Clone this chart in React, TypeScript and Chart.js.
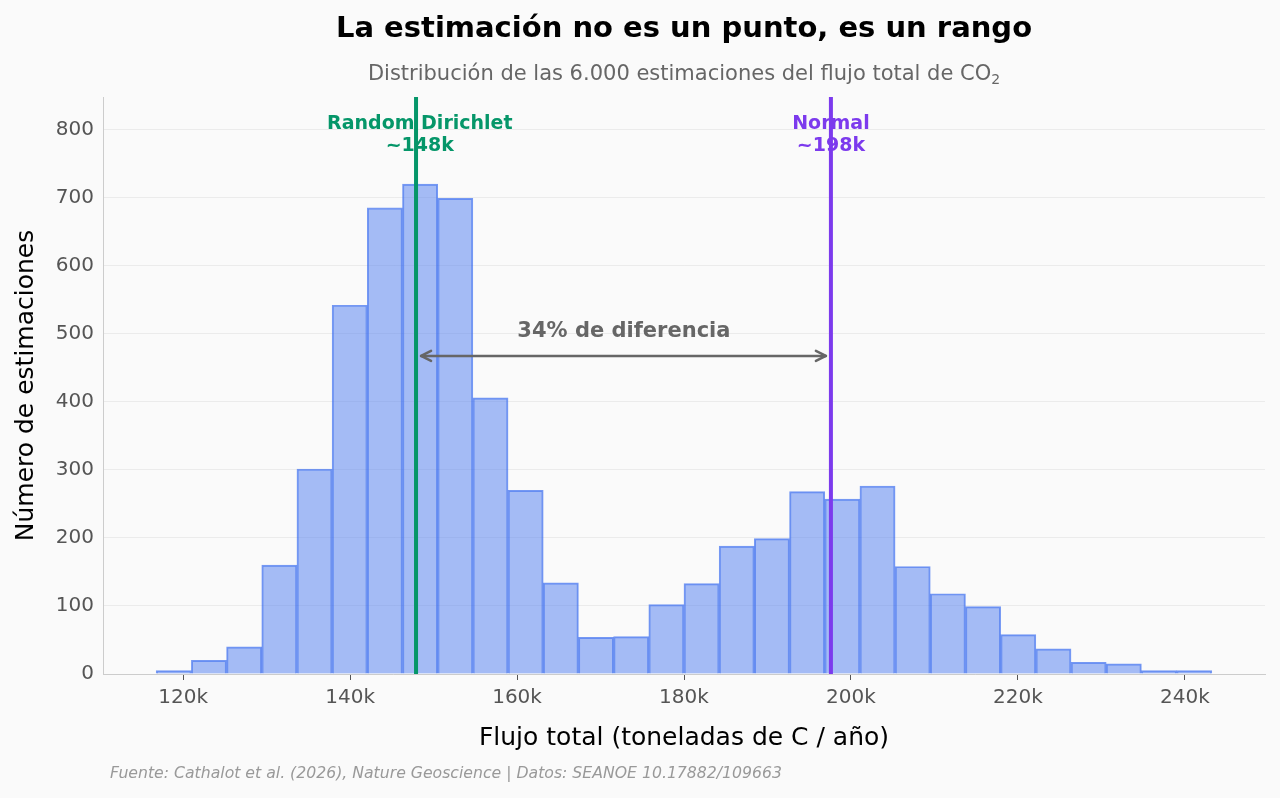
import React, { useEffect, useRef } from 'react';
import { Chart, registerables } from 'chart.js';

Chart.register(...registerables);

// Histogram bin edges (thousands of t C / year)
const binEdges = [
  116.77, 120.99, 125.2, 129.42, 133.63, 137.85, 142.06, 146.28, 150.49, 154.71,
  158.92, 163.14, 167.35, 171.57, 175.78, 180.0, 184.21, 188.43, 192.64, 196.86,
  201.07, 205.29, 209.5, 213.72, 217.93, 222.15, 226.36, 230.58, 234.79, 239.01, 243.22,
];
// Counts per bin
const counts = [
  5, 20, 40, 160, 301, 542, 685, 720, 699, 406,
  270, 134, 54, 55, 102, 133, 188, 199, 268, 257,
  276, 158, 118, 99, 58, 37, 17, 15, 5, 5,
];
const xTicks = [120, 140, 160, 180, 200, 220, 240];
const yTicks = [0, 100, 200, 300, 400, 500, 600, 700, 800];

// Reference markers
const markerNames = ['Random Dirichlet', 'Normal'];
const markerValueLabels = ['~148k', '~198k'];
const markerValues = [147.9, 197.6];
const markerLabelX = [148.35, 197.6];
const markerColors = ['#059669', '#7c3aed'];

// Arrow annotation
const arrowFrom = 148.5;
const arrowTo = 197.0;
const arrowY = 467.5;
const arrowText = '34% de diferencia';
const arrowTextX = 172.8;
const arrowTextY = 503;

const FONT = '"DejaVu Sans", sans-serif';

const annotPlugin = {
  id: 'annot',
  afterDraw(chart: any) {
    const { ctx, chartArea: a, scales } = chart;
    const x = scales.x;
    const y = scales.y;
    const cx = (a.left + a.right) / 2;
    ctx.save();

    // Title
    ctx.fillStyle = '#000';
    ctx.textAlign = 'center';
    ctx.textBaseline = 'middle';
    ctx.font = `bold 29px ${FONT}`;
    ctx.fillText('La estimación no es un punto, es un rango', cx, 29);

    // Subtitle with subscript
    const main = 'Distribución de las 6.000 estimaciones del flujo total de CO';
    ctx.font = `21px ${FONT}`;
    const w1 = ctx.measureText(main).width;
    ctx.font = `14px ${FONT}`;
    const w2 = ctx.measureText('2').width;
    const sx = cx - (w1 + w2) / 2;
    ctx.fillStyle = '#666';
    ctx.textAlign = 'left';
    ctx.textBaseline = 'alphabetic';
    ctx.font = `21px ${FONT}`;
    ctx.fillText(main, sx, 80);
    ctx.font = `14px ${FONT}`;
    ctx.fillText('2', sx + w1, 84);

    // Axis titles
    ctx.fillStyle = '#000';
    ctx.textAlign = 'center';
    ctx.textBaseline = 'middle';
    ctx.font = `25px ${FONT}`;
    ctx.fillText('Flujo total (toneladas de C / año)', cx, 738);
    ctx.save();
    ctx.translate(26, (a.top + a.bottom) / 2);
    ctx.rotate(-Math.PI / 2);
    ctx.fillText('Número de estimaciones', 0, 0);
    ctx.restore();

    // Footer
    ctx.fillStyle = '#999';
    ctx.textAlign = 'left';
    ctx.font = `italic 15.7px ${FONT}`;
    ctx.fillText('Fuente: Cathalot et al. (2026), Nature Geoscience | Datos: SEANOE 10.17882/109663', 110, 774);

    // Marker labels
    ctx.textAlign = 'center';
    ctx.font = `bold 19px ${FONT}`;
    markerNames.forEach((name, i) => {
      const px = x.getPixelForValue(markerLabelX[i]);
      ctx.fillStyle = markerColors[i];
      ctx.fillText(name, px, y.getPixelForValue(808));
      ctx.fillText(markerValueLabels[i], px, y.getPixelForValue(776));
    });

    // Marker lines
    markerValues.forEach((v, i) => {
      const px = x.getPixelForValue(v);
      ctx.strokeStyle = markerColors[i];
      ctx.lineWidth = 4;
      ctx.beginPath();
      ctx.moveTo(px, a.top);
      ctx.lineTo(px, a.bottom);
      ctx.stroke();
    });

    // Arrow
    const x1 = x.getPixelForValue(arrowFrom);
    const x2 = x.getPixelForValue(arrowTo);
    const ay = y.getPixelForValue(arrowY);
    ctx.strokeStyle = '#666';
    ctx.lineWidth = 2.5;
    ctx.lineCap = 'round';
    ctx.lineJoin = 'round';
    ctx.beginPath();
    ctx.moveTo(x1, ay);
    ctx.lineTo(x2, ay);
    ctx.stroke();
    ctx.beginPath();
    ctx.moveTo(x1 + 10, ay - 5);
    ctx.lineTo(x1, ay);
    ctx.lineTo(x1 + 10, ay + 5);
    ctx.moveTo(x2 - 10, ay - 5);
    ctx.lineTo(x2, ay);
    ctx.lineTo(x2 - 10, ay + 5);
    ctx.stroke();

    ctx.fillStyle = '#666';
    ctx.font = `bold 21px ${FONT}`;
    ctx.fillText(arrowText, x.getPixelForValue(arrowTextX), y.getPixelForValue(arrowTextY));

    ctx.restore();
  },
};

export default function App() {
  const ref = useRef<HTMLCanvasElement>(null);

  useEffect(() => {
    document.body.style.margin = '0';
    document.body.style.background = '#fafafa';
    const centers = counts.map((_, i) => (binEdges[i] + binEdges[i + 1]) / 2);
    const chart = new Chart(ref.current as HTMLCanvasElement, {
      type: 'bar',
      data: {
        datasets: [
          {
            data: centers.map((c, i) => ({ x: c, y: counts[i] })),
            backgroundColor: 'rgba(78,124,240,0.5)',
            borderColor: 'rgba(60,110,240,0.7)',
            borderWidth: 1.3,
            barPercentage: 1,
            categoryPercentage: 1,
          } as any,
        ],
      },
      options: {
        responsive: false,
        animation: false,
        layout: { padding: { top: 97, right: 15, left: 0, bottom: 0 } },
        plugins: {
          legend: { display: false },
          title: { display: false },
          tooltip: { enabled: false },
        },
        scales: {
          x: {
            type: 'linear',
            min: 110.4,
            max: 249.6,
            offset: false,
            afterFit: (s: any) => {
              s.height = 124;
            },
            afterBuildTicks: (s: any) => {
              s.ticks = xTicks.map((v) => ({ value: v }));
            },
            grid: {
              offset: false,
              drawOnChartArea: false,
              drawTicks: true,
              tickLength: 6,
              tickColor: '#555',
              tickWidth: 1,
            },
            border: { color: '#cccccc', width: 1 },
            ticks: {
              font: { family: 'DejaVu Sans', size: 20 },
              color: '#555',
              padding: 6,
              maxRotation: 0,
              autoSkip: false,
              callback: (v: any) => `${v}k`,
            },
          },
          y: {
            type: 'linear',
            min: 0,
            max: 848,
            z: 1,
            afterFit: (s: any) => {
              s.width = 103;
            },
            afterBuildTicks: (s: any) => {
              s.ticks = yTicks.map((v) => ({ value: v }));
            },
            grid: {
              color: 'rgba(205,205,205,0.35)',
              lineWidth: 1,
              drawTicks: false,
            },
            border: { color: '#cccccc', width: 1 },
            ticks: {
              font: { family: 'DejaVu Sans', size: 20 },
              color: '#555',
              padding: 9,
            },
          },
        },
      },
      plugins: [annotPlugin],
    });
    return () => chart.destroy();
  }, []);

  return (
    <div style={{ width: 1280, height: 798, background: '#fafafa' }}>
      <canvas ref={ref} width={1280} height={798} style={{ display: 'block' }} />
    </div>
  );
}
